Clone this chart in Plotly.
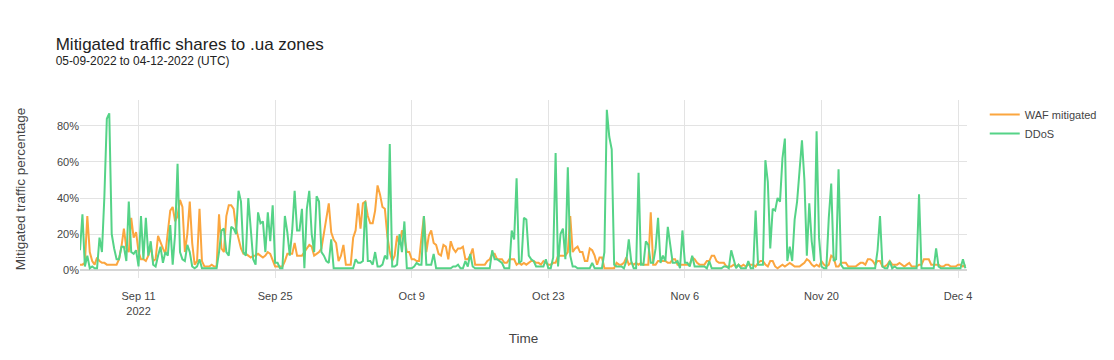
import pandas as pd
import plotly.graph_objects as go

start = "2022-09-05 00:00"
step = "6h"

# WAF mitigated share (%), four readings per day (00h, 06h, 12h, 18h UTC), Sep 5 .. Dec 4
waf = [
    3, 3, 4, 30,   10, 5, 3, 7,    5, 4, 4, 3,     3, 3, 3, 3,     6, 13, 23, 12,
    10, 29, 18, 21, 10, 6, 6, 5,   8, 13, 5, 6,    19, 15, 12, 9,  20, 33, 35, 27,
    30, 39, 35, 10, 20, 38, 15, 3, 5, 34, 5, 2,    2, 2, 3, 2,     2, 31, 12, 10,
    30, 36, 36, 34, 23, 18, 12, 9, 9, 8, 7, 8,     8, 9, 8, 7,     8, 10, 9, 6,
    2, 2, 2, 2,    5, 9, 9, 9,     15, 8, 8, 8,    10, 12, 14, 13, 8, 9, 10, 12,
    20, 27, 37, 21, 17, 15, 5, 8,  14, 3, 3, 3,    18, 22, 37, 23, 37, 38, 30, 26,
    26, 33, 47, 42, 35, 34, 19, 10, 5, 8, 19, 14,  22, 18, 10, 10, 6, 6, 5, 5,
    18, 30, 10, 19, 22, 15, 14, 9, 8, 14, 13, 6,   16, 12, 10, 12, 12, 13, 6, 6,
    8, 12, 3, 3,   3, 3, 3, 5,     6, 9, 9, 6,     6, 6, 4, 4,     6, 6, 6, 3,
    4, 3, 4, 3,    4, 5, 5, 4,     4, 3, 5, 4,     3, 3, 4, 4,     8, 8, 8, 8,
    10, 30, 10, 12, 13, 10, 10, 5, 5, 12, 11, 8,   3, 7, 7, 1,     1, 1, 1, 1,
    4, 3, 3, 4,    7, 3, 4, 3,     4, 3, 4, 3,     3, 3, 32, 3,    3, 5, 5, 5,
    5, 4, 4, 6,    6, 3, 3, 3,     3, 3, 3, 7,     6, 4, 3, 3,     3, 5, 5, 8,
    8, 5, 4, 4,    4, 2, 2, 2,     3, 2, 3, 2,     3, 2, 3, 3,     3, 2, 4, 5,
    5, 3, 2, 5,    5, 2, 1, 2,     3, 2, 3, 4,     3, 2, 2, 2,     3, 4, 6, 5,
    3, 2, 3, 2,    5, 3, 2, 3,     8, 7, 2, 2,     4, 4, 4, 2,     2, 2, 2, 3,
    4, 4, 3, 6,    6, 5, 3, 5,     5, 2, 2, 3,     5, 3, 3, 3,     4, 3, 2, 3,
    4, 2, 2, 2,    3, 3, 6, 6,     6, 3, 3, 3,     3, 2, 2, 3,     3, 2, 2, 2,
    3, 3, 2, 3,
]

# DDoS share (%), same timestamps
ddos = [
    11, 31, 2, 8,  1, 2, 1, 1,     18, 10, 41, 84, 87, 20, 12, 6,  6, 13, 13, 5,
    38, 10, 9, 11, 2, 30, 6, 29,   8, 16, 3, 2,    8, 13, 4, 10,   8, 25, 3, 20,
    59, 10, 6, 5,  14, 10, 2, 1,   2, 6, 1, 1,     1, 1, 1, 1,     1, 10, 22, 23,
    10, 8, 24, 23, 20, 44, 38, 10, 8, 40, 21, 6,   3, 32, 26, 27,  10, 32, 16, 36,
    4, 4, 1, 1,    30, 21, 8, 22,  44, 22, 22, 34, 1, 34, 44, 20,  10, 41, 38, 10,
    8, 5, 4, 17,   1, 1, 1, 1,     1, 1, 1, 1,     1, 6, 4, 4,     5, 38, 5, 5,
    3, 10, 2, 2,   3, 8, 6, 70,    2, 2, 3, 20,    10, 27, 1, 1,   1, 2, 4, 3,
    3, 30, 3, 3,   3, 9, 1, 1,     1, 1, 1, 1,     1, 2, 2, 3,     1, 1, 5, 2,
    9, 2, 1, 1,    1, 1, 1, 1,     1, 11, 6, 6,    5, 4, 1, 1,     1, 22, 17, 51,
    4, 5, 29, 28,  8, 6, 5, 2,     2, 2, 2, 6,     1, 1, 7, 65,    2, 20, 23, 6,
    57, 8, 2, 2,   1, 1, 1, 1,     1, 1, 4, 1,     1, 1, 1, 10,    89, 74, 67, 3,
    2, 2, 2, 1,    5, 17, 5, 1,    1, 54, 3, 3,    16, 14, 4, 4,   12, 29, 4, 8,
    5, 24, 14, 4,  4, 5, 1, 22,    4, 4, 2, 8,     2, 2, 2, 2,     2, 1, 5, 1,
    1, 1, 1, 1,    2, 2, 1, 11,    6, 1, 3, 1,     1, 1, 5, 1,     1, 33, 3, 3,
    3, 61, 49, 12, 34, 33, 40, 38, 62, 73, 5, 13,  5, 28, 38, 55,  72, 50, 8, 37,
    16, 5, 77, 18, 2, 1, 1, 29,    48, 5, 6, 56,   3, 1, 1, 1,     1, 1, 1, 1,
    1, 1, 1, 1,    1, 1, 1, 11,    30, 2, 1, 1,    5, 1, 2, 1,     1, 1, 1, 1,
    1, 1, 1, 1,    42, 1, 1, 1,    1, 1, 1, 12,    2, 1, 1, 1,     1, 1, 1, 1,
    1, 1, 6, 1,
]

series_names = ["WAF mitigated", "DDoS"]
series_colors = ["#FBA63F", "#55D387"]

y_ticks = [0, 20, 40, 60, 80]
y_tick_labels = ["0%", "20%", "40%", "60%", "80%"]

times = pd.date_range(start, periods=len(waf), freq=step)

fig = go.Figure()
for name, vals, col in zip(series_names, [waf, ddos], series_colors):
    fig.add_trace(go.Scatter(x=times, y=vals, mode="lines", name=name,
                             line=dict(color=col, width=2)))

font_family = "Liberation Sans, Arial, Helvetica, sans-serif"
grid = "#E3E3E3"

fig.update_layout(
    width=1114, height=360,
    paper_bgcolor="white", plot_bgcolor="white",
    font=dict(family=font_family, size=11, color="#444"),
    title=dict(text="Mitigated traffic shares to .ua zones<br><sup>05-09-2022 to 04-12-2022 (UTC)</sup>",
               x=0.05, font=dict(size=17, color="#222")),
    margin=dict(l=80, r=147, t=100, b=82, autoexpand=False),
    legend=dict(x=1.02, y=1, xanchor="left", yanchor="top", font=dict(size=11)),
    showlegend=True,
)
fig.update_xaxes(title_text="Time", type="date",
                 range=["2022-09-05 00:00", "2022-12-04 22:00"],
                 showgrid=True, gridcolor=grid, zeroline=False, showline=False,
                 ticks="outside", ticklen=8, tickcolor="rgba(0,0,0,0)",
                 title_font=dict(size=13.5), title_standoff=18)
fig.update_yaxes(title_text="Mitigated traffic percentage", range=[-4.4, 94.4],
                 tickvals=y_ticks, ticktext=y_tick_labels,
                 showgrid=True, gridcolor=grid, zeroline=True, zerolinecolor="#D6D6D6",
                 zerolinewidth=2, showline=False, title_font=dict(size=13.5),
                 title_standoff=28)

fig.write_html("out.html", config={"displayModeBar": False},
               post_script="document.body.style.margin='0px';")
